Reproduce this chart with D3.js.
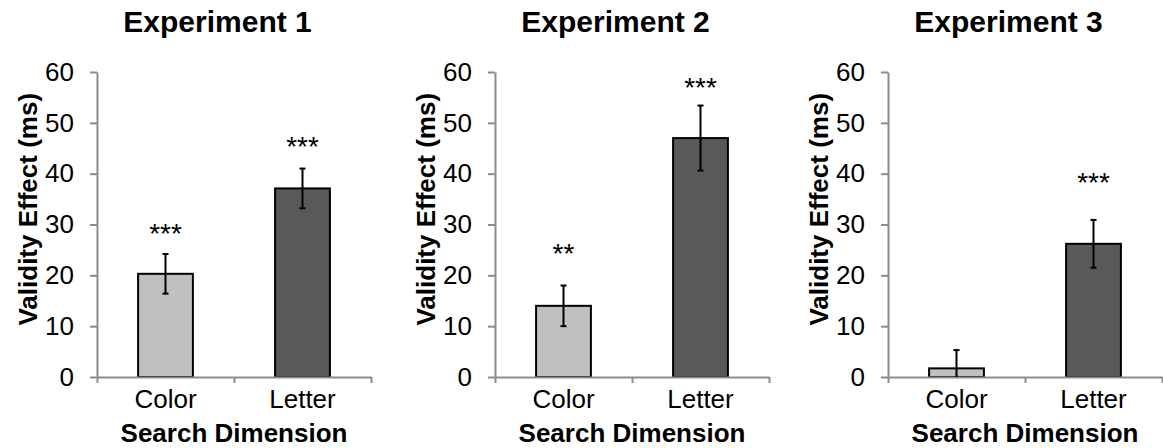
<!DOCTYPE html>
<html lang="en">
	<head>
		<meta charset="utf-8">
		<title>Validity effect by search dimension</title>
		<script src="https://d3js.org/d3.v7.min.js"></script>
		<style type="text/css">
			body { margin: 0; background: #fff; }
			text { font-family: "Liberation Sans", Arial, sans-serif; fill: #000; }
		</style>
	</head>
	<body>
		<script type="text/javascript">
			// data
			var experiments = ["Experiment 1", "Experiment 2", "Experiment 3"];
			var categories = ["Color", "Letter"];
			var yTicks = [0, 10, 20, 30, 40, 50, 60];
			var means = [[20.3, 37.1], [14.0, 47.0], [1.7, 26.2]];
			var errors = [[3.9, 3.9], [4.0, 6.4], [3.6, 4.7]];
			var stars = [["***", "***"], ["**", "***"], ["", "***"]];
			var starAt = [[29.5, 46.6], [25.6, 58.3], [0, 39.6]];   // height of the star labels, in ms
			var barColors = ["#c0c0c0", "#595959"];

			var W = 1163, H = 448;
			var margin = {top: 72, bottom: 71};
			var panelLeft = [97, 495, 888],
				width = 274,
				height = H - margin.top - margin.bottom;

			var svg = d3.select("body")
				.append("svg")
				.attr("width", W)
				.attr("height", H);

			var y = d3.scaleLinear()
				.domain([0, 60])
				.range([height, 0]);

			var x = d3.scaleBand()
				.domain(categories)
				.range([0, width])
				.paddingInner(0.6)
				.paddingOuter(0.3);

			var xEdge = d3.scaleLinear()
				.domain([0, categories.length])
				.range([0, width]);

			experiments.forEach(function(name, p){
				var g = svg.append("g")
					.attr("transform", "translate(" + panelLeft[p] + "," + margin.top + ")");

				var rows = categories.map(function(c, i){
					return {cat: c, mean: means[p][i], err: errors[p][i], star: stars[p][i], at: starAt[p][i], color: barColors[i]};
				});

				// y axis
				var ya = g.append("g")
					.call(d3.axisLeft(y).tickValues(yTicks).tickSize(7).tickSizeOuter(0).tickPadding(16));
				ya.select(".domain").attr("stroke", "#8c8c8c").attr("stroke-width", 2);
				ya.selectAll(".tick line").attr("stroke", "#8c8c8c").attr("stroke-width", 2);
				ya.selectAll(".tick text")
					.attr("font-size", "26px")
					.attr("font-family", null);

				// bars
				g.selectAll("rect.bar")
					.data(rows)
					.enter()
					.append("rect")
					.attr("class", "bar")
					.attr("x", function(d){ return x(d.cat); })
					.attr("y", function(d){ return y(d.mean); })
					.attr("width", x.bandwidth())
					.attr("height", function(d){ return y(0) - y(d.mean); })
					.attr("fill", function(d){ return d.color; })
					.attr("stroke", "#000")
					.attr("stroke-width", 2);

				// x axis: boundary ticks
				var xa = g.append("g")
					.attr("transform", "translate(0," + height + ")")
					.call(d3.axisBottom(xEdge).tickValues(d3.range(categories.length + 1)).tickFormat("").tickSize(6).tickSizeOuter(0));
				xa.select(".domain").attr("stroke", "#8c8c8c").attr("stroke-width", 2);
				xa.selectAll(".tick line").attr("stroke", "#8c8c8c").attr("stroke-width", 2);

				// category labels
				var xl = g.append("g")
					.attr("transform", "translate(0," + height + ")")
					.call(d3.axisBottom(x).tickSize(0).tickPadding(13));
				xl.select(".domain").remove();
				xl.selectAll(".tick text")
					.attr("font-size", "26px")
					.attr("font-family", null)
					.attr("dy", "0.71em");

				// error bars
				var eb = g.selectAll("g.err")
					.data(rows)
					.enter()
					.append("g")
					.attr("class", "err")
					.attr("stroke", "#000")
					.attr("stroke-width", 2);
				eb.append("line")
					.attr("x1", function(d){ return x(d.cat) + x.bandwidth() / 2; })
					.attr("x2", function(d){ return x(d.cat) + x.bandwidth() / 2; })
					.attr("y1", function(d){ return y(d.mean + d.err); })
					.attr("y2", function(d){ return y(Math.max(0, d.mean - d.err)); });
				eb.append("line")
					.attr("x1", function(d){ return x(d.cat) + x.bandwidth() / 2 - 3; })
					.attr("x2", function(d){ return x(d.cat) + x.bandwidth() / 2 + 3; })
					.attr("y1", function(d){ return y(d.mean + d.err); })
					.attr("y2", function(d){ return y(d.mean + d.err); });
				eb.filter(function(d){ return d.mean - d.err > 0; })
					.append("line")
					.attr("x1", function(d){ return x(d.cat) + x.bandwidth() / 2 - 3; })
					.attr("x2", function(d){ return x(d.cat) + x.bandwidth() / 2 + 3; })
					.attr("y1", function(d){ return y(d.mean - d.err); })
					.attr("y2", function(d){ return y(d.mean - d.err); });

				// significance stars
				g.selectAll("text.star")
					.data(rows.filter(function(d){ return d.star; }))
					.enter()
					.append("text")
					.attr("class", "star")
					.attr("x", function(d){ return x(d.cat) + x.bandwidth() / 2; })
					.attr("y", function(d){ return y(d.at) + 16; })
					.attr("text-anchor", "middle")
					.attr("font-size", "28px")
					.text(function(d){ return d.star; });

				// title
				g.append("text")
					.attr("x", width * 0.44)
					.attr("y", 32 - margin.top)
					.attr("text-anchor", "middle")
					.attr("font-size", "30px")
					.attr("font-weight", "bold")
					.text(name);

				// y label
				g.append("text")
					.attr("transform", "translate(-60," + (height * 0.45) + ") rotate(-90)")
					.attr("text-anchor", "middle")
					.attr("font-size", "26px")
					.attr("font-weight", "bold")
					.text("Validity Effect (ms)");

				// x label
				g.append("text")
					.attr("x", width / 2)
					.attr("y", height + 65)
					.attr("text-anchor", "middle")
					.attr("font-size", "26px")
					.attr("font-weight", "bold")
					.text("Search Dimension");
			});
		</script>
	</body>
</html>
